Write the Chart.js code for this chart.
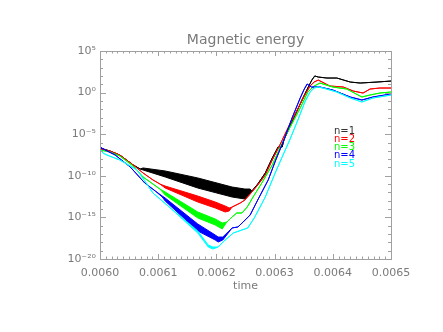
<!DOCTYPE html>
<html lang="en">
  <head>
    <meta charset="UTF-8" />
    <title>Magnetic energy</title>
    <script src="https://cdn.jsdelivr.net/npm/chart.js@4.4.1/dist/chart.umd.min.js"></script>
    <style>
      body { margin: 0; background: #fff; }
      #wrap { width: 443px; height: 332px; }
    </style>
  </head>
  <body>
    <div id="wrap"><canvas id="energyChart"></canvas></div>
    <script>
      // values are log10 of the magnetic energy
      // hi / lo are the top and bottom of the noisy band (equal where the curve is a plain line)
      const t1 = [0.006000, 0.006017, 0.006034, 0.006057, 0.006069, 0.006074, 0.006112, 0.006168, 0.006227, 0.006249, 0.006258, 0.006261, 0.006271, 0.006284, 0.006296, 0.006306, 0.006313, 0.006316, 0.006326, 0.006337, 0.006347, 0.006357, 0.006364, 0.006369, 0.006375, 0.006390, 0.006407, 0.006430, 0.006447, 0.006476, 0.006500];
      const hi1 = [-6.66, -7.02, -7.5, -8.7, -9.18, -9.06, -9.42, -10.26, -11.35, -11.59, -11.59, -11.83, -10.99, -9.66, -7.86, -6.54, -6.54, -5.7, -4.13, -2.45, -0.89, 0.55, 1.51, 2.0, 1.87, 1.75, 1.75, 1.27, 1.15, 1.27, 1.39];
      const lo1 = [-6.66, -7.02, -7.5, -8.7, -9.18, -9.3, -10.14, -11.47, -12.55, -12.79, -12.19, -11.83, -10.99, -9.66, -7.86, -6.54, -6.54, -5.7, -4.13, -2.45, -0.89, 0.55, 1.51, 2.0, 1.87, 1.75, 1.75, 1.27, 1.15, 1.27, 1.39];

      const t2 = [0.006000, 0.006017, 0.006034, 0.006057, 0.006074, 0.006091, 0.006103, 0.006112, 0.006168, 0.006198, 0.006215, 0.006222, 0.006227, 0.006241, 0.006249, 0.006261, 0.006271, 0.006284, 0.006296, 0.006309, 0.006323, 0.006337, 0.006351, 0.006361, 0.006368, 0.006375, 0.006395, 0.006418, 0.006435, 0.006452, 0.006464, 0.006481, 0.006500];
      const hi2 = [-6.78, -7.02, -7.5, -8.7, -9.66, -10.5, -10.99, -11.23, -12.43, -13.15, -13.63, -13.87, -13.75, -13.27, -12.91, -11.95, -11.11, -9.9, -8.1, -6.3, -4.25, -2.33, -0.41, 0.79, 1.27, 1.51, 0.79, 0.67, 0.19, -0.05, 0.43, 0.55, 0.55];
      const lo2 = [-6.78, -7.02, -7.5, -8.7, -9.66, -10.5, -10.99, -11.47, -13.15, -13.87, -14.35, -14.23, -13.75, -13.27, -12.91, -11.95, -11.11, -9.9, -8.1, -6.3, -4.25, -2.33, -0.41, 0.79, 1.27, 1.51, 0.79, 0.67, 0.19, -0.05, 0.43, 0.55, 0.55];

      const t3 = [0.006000, 0.006017, 0.006034, 0.006057, 0.006074, 0.006091, 0.006103, 0.006112, 0.006168, 0.006198, 0.006210, 0.006218, 0.006227, 0.006235, 0.006244, 0.006253, 0.006263, 0.006278, 0.006296, 0.006309, 0.006326, 0.006344, 0.006357, 0.006368, 0.006378, 0.006400, 0.006424, 0.006450, 0.006464, 0.006481, 0.006500];
      const hi3 = [-6.9, -7.14, -7.62, -8.82, -10.14, -10.99, -11.59, -11.95, -14.35, -15.19, -15.67, -15.55, -14.95, -14.47, -14.47, -13.75, -12.55, -10.87, -8.7, -6.66, -4.25, -1.85, 0.07, 0.79, 1.15, 0.67, 0.43, -0.53, -0.29, -0.05, 0.07];
      const lo3 = [-6.9, -7.14, -7.62, -8.82, -10.14, -10.99, -11.59, -12.31, -15.07, -15.91, -16.39, -15.55, -14.95, -14.47, -14.47, -13.75, -12.55, -10.87, -8.7, -6.66, -4.25, -1.85, 0.07, 0.79, 1.15, 0.67, 0.43, -0.53, -0.29, -0.05, 0.07];

      const t4 = [0.006000, 0.006009, 0.006026, 0.006052, 0.006077, 0.006095, 0.006107, 0.006112, 0.006168, 0.006198, 0.006203, 0.006211, 0.006227, 0.006237, 0.006246, 0.006258, 0.006271, 0.006289, 0.006302, 0.006316, 0.006330, 0.006344, 0.006351, 0.006356, 0.006363, 0.006369, 0.006378, 0.006400, 0.006430, 0.006450, 0.006469, 0.006500];
      const hi4 = [-6.54, -6.9, -7.5, -8.94, -10.87, -11.83, -12.43, -12.67, -15.79, -17.12, -17.36, -17.36, -16.27, -16.15, -15.55, -14.71, -12.91, -10.5, -8.1, -5.7, -3.05, -0.65, 0.43, 1.03, 0.67, 0.67, 0.67, 0.31, -0.53, -0.89, -0.53, -0.17];
      const lo4 = [-6.54, -6.9, -7.5, -8.94, -10.87, -11.83, -12.55, -13.03, -16.63, -17.72, -17.96, -17.72, -16.27, -16.15, -15.55, -14.71, -12.91, -10.5, -8.1, -5.7, -3.05, -0.65, 0.43, 1.03, 0.67, 0.67, 0.67, 0.31, -0.53, -0.89, -0.53, -0.17];

      const t5 = [0.006000, 0.006005, 0.006012, 0.006034, 0.006064, 0.006091, 0.006117, 0.006168, 0.006186, 0.006194, 0.006203, 0.006215, 0.006229, 0.006244, 0.006254, 0.006266, 0.006284, 0.006301, 0.006313, 0.006326, 0.006340, 0.006352, 0.006361, 0.006368, 0.006375, 0.006383, 0.006407, 0.006430, 0.006450, 0.006469, 0.006500];
      const hi5 = [-6.78, -7.26, -7.5, -8.1, -9.3, -12.07, -13.63, -16.63, -18.32, -18.56, -18.56, -17.72, -16.88, -16.51, -16.27, -14.95, -12.55, -9.66, -7.74, -5.7, -3.29, -1.13, 0.07, 0.55, 0.67, 0.55, 0.07, -0.65, -1.13, -0.65, -0.29];
      const lo5 = [-6.78, -7.26, -7.5, -8.1, -9.3, -12.07, -13.63, -16.88, -18.56, -18.8, -18.56, -17.72, -16.88, -16.51, -16.27, -14.95, -12.55, -9.66, -7.74, -5.7, -3.29, -1.13, 0.07, 0.55, 0.67, 0.55, 0.07, -0.65, -1.13, -0.65, -0.29];

      const seriesNames = ["n=1", "n=2", "n=3", "n=4", "n=5"];
      const seriesColors = ["#000000", "#ff0000", "#00ff00", "#0000ff", "#00ffff"];

      const xTicks = [0.006, 0.0061, 0.0062, 0.0063, 0.0064, 0.0065];
      const xTickText = ["0.0060", "0.0061", "0.0062", "0.0063", "0.0064", "0.0065"];
      const yTickExp = [-20, -15, -10, -5, 0, 5];
      const yTickText = ["10\u207b\u00b2\u2070", "10\u207b\u00b9\u2075", "10\u207b\u00b9\u2070", "10\u207b\u2075", "10\u2070", "10\u2075"];

      const axisColor = "#a0a0a0";
      const textColor = "#7a7a7a";

      const allT = [t1, t2, t3, t4, t5];
      const allHi = [hi1, hi2, hi3, hi4, hi5];
      const allLo = [lo1, lo2, lo3, lo4, lo5];

      function toPoints(t, logs) {
        return t.map(function (x, i) {
          return { x: x, y: Math.pow(10, logs[i]) };
        });
      }

      const datasets = [];
      for (let s = 0; s < 5; s++) {
        // lower edge first, then upper edge filled down to it
        datasets.push({
          label: seriesNames[s] + " lo",
          data: toPoints(allT[s], allLo[s]),
          borderColor: seriesColors[s],
          borderWidth: 1,
          pointRadius: 0,
          fill: false,
          order: 10 - s * 2,
        });
        datasets.push({
          label: seriesNames[s],
          data: toPoints(allT[s], allHi[s]),
          borderColor: seriesColors[s],
          backgroundColor: seriesColors[s],
          borderWidth: 1,
          pointRadius: 0,
          fill: "-1",
          order: 10 - s * 2,
        });
      }

      // IDL style box with inward ticks, title, axis title and text legend
      const idlFrame = {
        id: "idlFrame",
        afterDraw(chart) {
          const ctx = chart.ctx;
          const a = chart.chartArea;
          const xs = chart.scales.x;
          const ys = chart.scales.y;
          ctx.save();
          ctx.strokeStyle = axisColor;
          ctx.lineWidth = 1;
          ctx.strokeRect(Math.round(a.left) + 0.5, Math.round(a.top) + 0.5, Math.round(a.right - a.left), Math.round(a.bottom - a.top));
          ctx.beginPath();
          for (let i = 0; i <= 50; i++) {
            const px = Math.round(xs.getPixelForValue(0.006 + i * 0.00001)) + 0.5;
            const len = i % 10 === 0 ? 5 : 2.5;
            ctx.moveTo(px, a.bottom);
            ctx.lineTo(px, a.bottom - len);
            ctx.moveTo(px, a.top);
            ctx.lineTo(px, a.top + len);
          }
          for (let e = -20; e <= 5; e++) {
            const py = Math.round(ys.getPixelForValue(Math.pow(10, e))) + 0.5;
            const len = e % 5 === 0 ? 6 : 3;
            ctx.moveTo(a.left, py);
            ctx.lineTo(a.left + len, py);
            ctx.moveTo(a.right, py);
            ctx.lineTo(a.right - len, py);
          }
          ctx.stroke();

          const midX = (a.left + a.right) / 2;
          ctx.fillStyle = textColor;
          ctx.textAlign = "center";
          ctx.textBaseline = "middle";
          ctx.font = "14px 'DejaVu Sans'";
          ctx.fillText("Magnetic energy", midX, 40);
          ctx.font = "11px 'DejaVu Sans'";
          ctx.fillText("time", midX, 286);

          ctx.textAlign = "left";
          ctx.font = "10px 'DejaVu Sans'";
          for (let s = 0; s < 5; s++) {
            ctx.fillStyle = s === 0 ? "#333333" : seriesColors[s];
            ctx.fillText(seriesNames[s], 334, 131 + s * 8.3);
          }
          ctx.restore();
        },
      };

      const ctx = document.querySelector("#energyChart").getContext("2d");
      const energyChart = new Chart(ctx, {
        type: "line",
        data: { datasets: datasets },
        plugins: [idlFrame],
        options: {
          responsive: true,
          maintainAspectRatio: false,
          animation: false,
          layout: { padding: { top: 51, right: 52, bottom: 0, left: 0 } },
          elements: { line: { tension: 0 } },
          plugins: {
            legend: { display: false },
            tooltip: { enabled: false },
            title: { display: false },
          },
          scales: {
            x: {
              type: "linear",
              min: 0.006,
              max: 0.0065,
              afterBuildTicks: function (scale) {
                scale.ticks = xTicks.map(function (v) { return { value: v }; });
              },
              afterFit: function (scale) { scale.height = 73; },
              grid: { display: false, drawTicks: false },
              border: { display: false },
              ticks: {
                autoSkip: false,
                maxRotation: 0,
                padding: 8,
                color: textColor,
                font: { family: "'DejaVu Sans'", size: 11 },
                callback: function (v, i) { return xTickText[i]; },
              },
            },
            y: {
              type: "logarithmic",
              min: 1e-20,
              max: 1e5,
              afterBuildTicks: function (scale) {
                scale.ticks = yTickExp.map(function (e) { return { value: Math.pow(10, e) }; });
              },
              afterFit: function (scale) { scale.width = 100; },
              grid: { display: false, drawTicks: false },
              border: { display: false },
              ticks: {
                autoSkip: false,
                padding: 4,
                color: textColor,
                font: { family: "'DejaVu Sans'", size: 11 },
                callback: function (v, i) { return yTickText[i]; },
              },
            },
          },
        },
      });
    </script>
  </body>
</html>
